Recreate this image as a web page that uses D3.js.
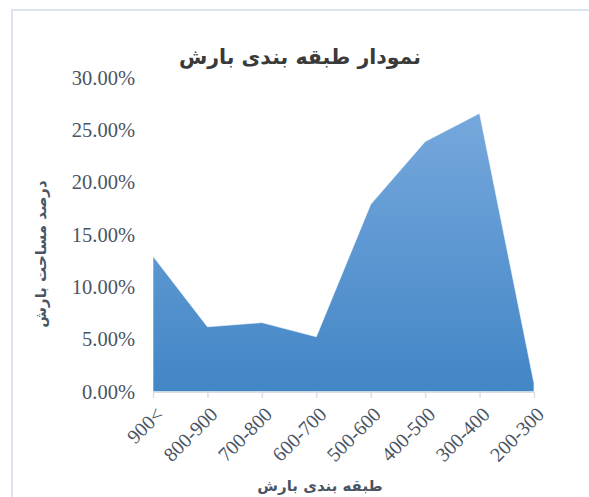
<!DOCTYPE html>
<head>
    <meta charset="utf-8">
    <style>
        html, body {
            margin: 0;
            padding: 0;
            background: #fff;
        }
    </style>
    <script src="https://d3js.org/d3.v7.min.js"></script>
</head>
<body>
    <div id="chart"></div>
    <script>
        // categories (left to right) and share of area, in percent
        var categories = ["900<", "800-900", "700-800", "600-700", "500-600", "400-500", "300-400", "200-300"];
        var shares = [12.95, 6.2, 6.6, 5.25, 17.9, 23.9, 26.6, 0.8];
        var yTicks = [0, 5, 10, 15, 20, 25, 30];

        var title = "نمودار طبقه بندی بارش";
        var xTitle = "طبقه بندی بارش";
        var yTitle = "درصد مساحت بارش";

        var W = 589, H = 497;
        var plotL = 153, plotR = 534, plotT = 77.7, plotB = 391.7;
        var textColor = "#4a5463";
        var serif = "'Liberation Serif', 'Times New Roman', serif";

        var svg = d3.select("#chart").append("svg")
            .attr("width", W)
            .attr("height", H);

        // chart frame (runs off the right and bottom of the picture)
        svg.append("rect")
            .attr("x", 12).attr("y", 10)
            .attr("width", 640).attr("height", 560)
            .attr("fill", "none")
            .attr("stroke", "#dde3ec")
            .attr("stroke-width", 2);

        var x = d3.scalePoint().domain(categories).range([plotL, plotR]);
        var y = d3.scaleLinear().domain([0, 30]).range([plotB, plotT]);

        var grad = svg.append("defs").append("linearGradient")
            .attr("id", "fillGrad")
            .attr("gradientUnits", "userSpaceOnUse")
            .attr("x1", 0).attr("y1", plotT)
            .attr("x2", 0).attr("y2", plotB);
        grad.append("stop").attr("offset", "0%").attr("stop-color", "#7dacdf");
        grad.append("stop").attr("offset", "100%").attr("stop-color", "#4286c6");

        var area = d3.area()
            .x(function (d, i) { return x(categories[i]); })
            .y0(y(0))
            .y1(function (d) { return y(d); });

        svg.append("path")
            .datum(shares)
            .attr("d", area)
            .attr("fill", "url(#fillGrad)")
            .attr("stroke", "#ffffff")
            .attr("stroke-width", 0.6);

        // y axis (labels only)
        var yAxis = svg.append("g")
            .attr("transform", "translate(" + (plotL - 18) + ",0)")
            .call(d3.axisLeft(y).tickValues(yTicks).tickSize(0)
                .tickFormat(function (d) { return d.toFixed(2) + "%"; }));
        yAxis.select(".domain").remove();
        yAxis.selectAll("text")
            .attr("x", 0)
            .attr("fill", textColor)
            .style("font-family", serif)
            .style("font-size", "20.5px");

        // x axis
        var xAxis = svg.append("g")
            .attr("transform", "translate(0," + plotB + ")")
            .call(d3.axisBottom(x).tickSize(6).tickSizeOuter(0));
        xAxis.select(".domain").attr("stroke", "#d9dde4").attr("stroke-width", 1.5);
        xAxis.selectAll(".tick line").attr("stroke", "#d9dde4").attr("stroke-width", 1.5);
        xAxis.selectAll("text")
            .attr("fill", textColor)
            .style("font-family", serif)
            .style("font-size", "20px")
            .attr("text-anchor", "end")
            .attr("y", 0)
            .attr("dy", "0.35em")
            .attr("transform", "translate(6,19) rotate(-45)")
            .attr("direction", "ltr");

        // titles
        svg.append("text")
            .attr("x", 300).attr("y", 64)
            .attr("text-anchor", "middle")
            .attr("direction", "rtl")
            .style("font-family", "'DejaVu Sans', sans-serif")
            .style("font-weight", "bold")
            .style("font-size", "20.5px")
            .attr("fill", "#3a3a3a")
            .text(title);

        svg.append("text")
            .attr("x", 320).attr("y", 491)
            .attr("text-anchor", "middle")
            .style("font-family", "'DejaVu Sans', sans-serif")
            .style("font-weight", "bold")
            .style("font-size", "15px")
            .attr("fill", textColor)
            .text(xTitle);

        svg.append("text")
            .attr("transform", "translate(46,254) rotate(-90)")
            .attr("text-anchor", "middle")
            .style("font-family", "'DejaVu Sans', sans-serif")
            .style("font-weight", "bold")
            .style("font-size", "15px")
            .attr("fill", textColor)
            .text(yTitle);
    </script>
</body>
